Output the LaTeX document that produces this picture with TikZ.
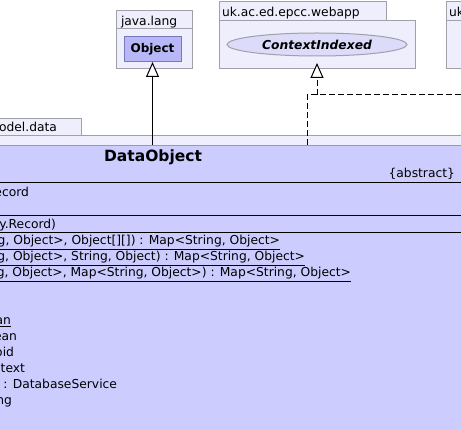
\documentclass[tikz,border=0pt]{standalone}
\usepackage{fontspec}
\setmainfont{DejaVu Sans}
\usetikzlibrary{arrows.meta,shapes.geometric,positioning}
\definecolor{pkgfill}{RGB}{238,238,252}
\definecolor{pkgline}{RGB}{160,160,168}
\definecolor{clsfill}{RGB}{204,204,255}
\definecolor{clsline}{RGB}{150,150,200}
\definecolor{reffill}{RGB}{184,184,248}
\definecolor{refline}{RGB}{120,120,190}
\definecolor{ifcfill}{RGB}{220,220,250}
\tikzset{
  pkg/.style = {fill=pkgfill, draw=pkgline, line width=1pt},
  txt/.style = {inner sep=0pt, outer sep=0pt, font=\fontsize{12.3}{14}\selectfont},
  bold/.style = {txt, font=\fontsize{12}{14}\selectfont\bfseries},
  refbox/.style = {bold, fill=reffill, draw=refline, line width=1pt,
                   minimum width=57pt, minimum height=25pt},
  ifc/.style = {ellipse, bold, font=\fontsize{12.3}{14}\selectfont\bfseries\itshape,
                fill=ifcfill, draw=pkgline, line width=1pt,
                minimum width=180pt, minimum height=23pt},
  cls/.style = {fill=clsfill, draw=clsline, line width=1pt, inner sep=0pt,
                minimum width=480pt, minimum height=300pt, anchor=north west},
  gen/.style = {-{Triangle[open, length=15pt, width=13pt, fill=white]}, line width=1pt},
  real/.style = {gen, dash pattern=on 6pt off 3pt},
  dashline/.style = {line width=1pt, dash pattern=on 6pt off 3pt}
}
\newcommand{\ulin}[1]{\underline{#1}}

\begin{document}
\begin{tikzpicture}[x=1pt, y=-1pt]
	\useasboundingbox (0,0) rectangle (461,430);
	\clip (0,0) rectangle (461,430);
	
	% Packages
	\draw[pkg] (116,11) rectangle (192,29); % java.lang
	\draw[pkg] (116,29) rectangle (192,69);
	\draw[pkg] (219,2) rectangle (386,21);  % webapp
	\draw[pkg] (219,21) rectangle (415,69);
	\draw[pkg] (446,2) rectangle (480,21);  % uk...
	\draw[pkg] (446,21) rectangle (480,69);
	\draw[pkg] (-10,119) rectangle (81,136); % model.data
	\draw[pkg] (-10,136) rectangle (480,440);
	
	% Package names
	\node[txt, anchor=base west] (jlang) at (121,26) {java.lang};
	\node[txt, anchor=base west] (webapp) at (222,17) {uk.ac.ed.epcc.webapp};
	\node[txt, anchor=base west] (ukpkg) at (449,17) {uk};
	\node[txt, anchor=base east] (mdata) at (57,132) {odel.data};
	
	% Classes
	\node[refbox] (obj) at (152.5,49.5) {Object};
	\node[ifc] (ctx) at (317,44.5) {ContextIndexed};
	\node[cls] (dobj) at (-10,145) {};
	
	% Compartments
	\draw[line width=1pt] (-10,183) -- (480,183);
	\draw[line width=1pt] (-10,216) -- (480,216);
	\draw[line width=1pt] (-10,233) -- (480,233);
	
	% Class text
	\node[bold, font=\fontsize{15.5}{17}\selectfont\bfseries, anchor=base] (dname) at (153,162) {DataObject};
	\node[txt, anchor=base east] (abs) at (455,178) {\{abstract\}};
	\node[txt, anchor=base east] (att1) at (29,197) {ecord};
	\node[txt, anchor=base east] (ctor) at (56,229) {y.Record)};
	\node[txt, anchor=base east] (m1) at (280,245) {\ulin{g, Object>, Object[][]) : Map<String, Object>}};
	\node[txt, anchor=base east] (m2) at (305,261) {\ulin{g, Object>, String, Object) : Map<String, Object>}};
	\node[txt, anchor=base east] (m3) at (351,277) {\ulin{g, Object>, Map<String, Object>) : Map<String, Object>}};
	\node[txt, anchor=base east] (m4) at (11,325) {\ulin{an}};
	\node[txt, anchor=base east] (m5) at (17,341) {ean};
	\node[txt, anchor=base east] (m6) at (14,357) {oid};
	\node[txt, anchor=base east] (m7) at (25,373) {ntext};
	\node[txt, anchor=base east] (m8) at (117,389) {: DatabaseService};
	\node[txt, anchor=base east] (m9) at (12,405) {ng};
	
	% Generalisation
	\draw[gen] (obj.south |- dobj.north) -- (obj.south);
	
	% Realisation
	\coordinate (dtop) at (307,145);
	\coordinate (jn) at (317,95);
	\coordinate (offr) at (480,95);
	\draw[dashline] (dtop) |- (offr);
	\draw[real, shorten >=7pt] (jn) -- (ctx.south);
	
\end{tikzpicture}
\end{document}
